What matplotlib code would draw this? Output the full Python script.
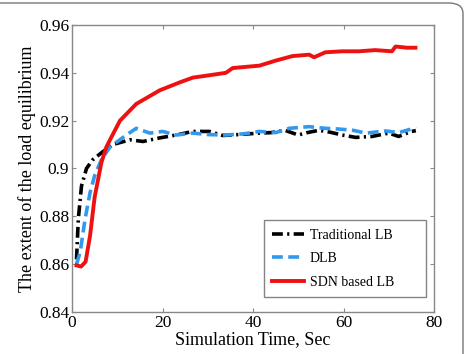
import matplotlib
matplotlib.use("Agg")
import matplotlib.pyplot as plt
from matplotlib.patches import FancyBboxPatch

plt.rcParams['font.family'] = ['Liberation Serif', 'DejaVu Serif']

# Traditional LB
trad_x = [1.0, 1.4, 2.1, 3.2, 4.6, 6.8, 9.0, 12.8, 15.7, 19.4, 23.0, 26.7, 30.4, 33.3,
          37.0, 41.4, 44.0, 47.0, 50.0, 52.0, 54.6, 57.0, 59.7, 62.7, 66.3, 70.0, 72.2, 75.0, 76.0]
trad_y = [0.862, 0.879, 0.8927, 0.900, 0.9037, 0.907, 0.910, 0.912, 0.9113, 0.9128, 0.914, 0.9155,
          0.9155, 0.9138, 0.9142, 0.9148, 0.9150, 0.916, 0.914, 0.9150, 0.916, 0.9152, 0.914, 0.913,
          0.9134, 0.9148, 0.9134, 0.9155, 0.9158]

# DLB
dlb_x = [1.0, 1.8, 2.9, 4.0, 5.0, 6.5, 8.4, 12.0, 14.2, 17.2, 20.0, 23.0, 26.7, 30.0, 34.0,
         38.0, 41.4, 45.0, 48.0, 52.4, 56.0, 59.0, 62.0, 65.0, 69.3, 72.2, 75.5, 76.0]
dlb_y = [0.860, 0.865, 0.879, 0.890, 0.897, 0.9037, 0.909, 0.914, 0.9168, 0.9148, 0.9155, 0.914,
         0.9148, 0.9142, 0.914, 0.9145, 0.9155, 0.9150, 0.9168, 0.9175, 0.9168, 0.9165, 0.916,
         0.9148, 0.9157, 0.915, 0.9168, 0.9165]

# SDN based LB
sdn_x = [1.0, 2.0, 3.0, 4.0, 5.0, 6.5, 7.6, 8.4, 10.6, 14.2, 19.4, 23.8, 26.7, 30.4, 34.0,
         35.5, 41.4, 45.0, 48.7, 52.4, 53.5, 56.0, 59.7, 63.4, 67.0, 70.7, 71.5, 74.0, 75.9]
sdn_y = [0.8595, 0.859, 0.861, 0.872, 0.888, 0.9025, 0.909, 0.912, 0.920, 0.927, 0.9327, 0.936,
         0.938, 0.939, 0.940, 0.942, 0.943, 0.9451, 0.947, 0.9476, 0.9465, 0.9486, 0.949, 0.949,
         0.9495, 0.949, 0.951, 0.9505, 0.9505]

xticks = [0, 20, 40, 60, 80]
yticks = [0.84, 0.86, 0.88, 0.9, 0.92, 0.94, 0.96]
yticklabels = ['0.84', '0.86', '0.88', '0.9', '0.92', '0.94', '0.96']

fig = plt.figure(figsize=(4.68, 3.54), dpi=100)
ax = fig.add_axes([72/468, 1 - 312/354, (434-72)/468, (312-25)/354])

ax.plot(trad_x, trad_y, color='black', lw=2.6, linestyle=(0, (3, 1.2, 0.6, 1.2)),
        label='Traditional LB')
ax.plot(dlb_x, dlb_y, color='#3399ee', lw=2.6, linestyle=(0, (3, 1.5)), label='DLB')
ax.plot(sdn_x, sdn_y, color='#ee1111', lw=2.8, label='SDN based LB')

ax.set_xlim(0, 80)
ax.set_ylim(0.84, 0.96)
ax.set_xticks(xticks)
ax.set_yticks(yticks)
ax.set_yticklabels(yticklabels)
ax.tick_params(direction='in', top=True, right=True, labelsize=12.5, length=3,
               color='#888888', pad=2)
for s in ax.spines.values():
    s.set_color('#888888')
    s.set_linewidth(1.0)

ax.set_xlabel('Simulation Time, Sec', fontsize=13, labelpad=0)
ax.set_ylabel('The extent of the load equilibrium', fontsize=13, labelpad=2)

leg = ax.legend(loc='lower left',
                bbox_to_anchor=((264-72)/362, (312-297)/287, (426-264)/362, 0.2),
                mode='expand', fontsize=10,
                frameon=True, fancybox=False, edgecolor='#666666', handlelength=2.3,
                borderpad=0.6, labelspacing=0.75, handletextpad=0.4, borderaxespad=0)
leg.get_frame().set_linewidth(1.0)

# image frame (top and right with rounded corner)
frame = FancyBboxPatch((-0.05, -0.05), 463/468 + 0.05, (1 - 3/354) + 0.05,
                       boxstyle='round,pad=0,rounding_size=0.03',
                       transform=fig.transFigure, fill=False, edgecolor='#777777',
                       lw=1.0, clip_on=False)
fig.patches.append(frame)

fig.savefig('out.png', dpi=100)
